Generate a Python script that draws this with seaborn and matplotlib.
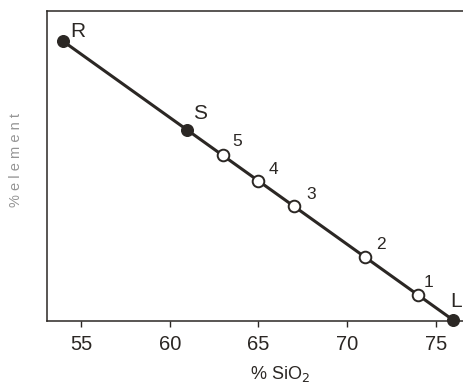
import matplotlib
matplotlib.use("Agg")
import matplotlib.pyplot as plt
import seaborn as sns
import pandas as pd

# data
labels = ["R", "S", "5", "4", "3", "2", "1", "L"]
sio2 = [54, 61, 63, 65, 67, 71, 74, 76]
element = [11.0, 7.5, 6.5, 5.5, 4.5, 2.5, 1.0, 0.0]
kind = ["end", "end", "mid", "mid", "mid", "mid", "mid", "end"]
xticks = [55, 60, 65, 70, 75]

df = pd.DataFrame({"label": labels, "sio2": sio2, "element": element, "kind": kind})

sns.set_theme(style="white")
plt.rcParams["font.family"] = ["Liberation Sans", "DejaVu Sans"]

W, H = 463, 383
fig = plt.figure(figsize=(W / 100, H / 100), dpi=100)
left, right, top, bottom = 47, 475, 11, 321
ax = fig.add_axes([left / W, (H - bottom) / H, (right - left) / W, (bottom - top) / H])

ink = "#2b2724"
sns.lineplot(data=df, x="sio2", y="element", ax=ax, color=ink, linewidth=2.2,
             sort=False, zorder=2)
ends = df[df["kind"] == "end"]
mids = df[df["kind"] == "mid"]
sns.scatterplot(data=ends, x="sio2", y="element", ax=ax, color=ink, s=70,
                edgecolor=ink, linewidth=1, zorder=3, clip_on=False)
sns.scatterplot(data=mids, x="sio2", y="element", ax=ax, color="white", s=70,
                edgecolor=ink, linewidth=1.4, zorder=3, clip_on=False)

offsets = {"R": (15, 10), "S": (13, 17), "5": (14, 14), "4": (15, 11), "3": (17, 12),
           "2": (16, 12), "1": (11, 12), "L": (3, 19)}
for lab, x, y in zip(labels, sio2, element):
    big = lab in ("R", "S", "L")
    ax.annotate(lab, (x, y), xytext=offsets[lab], textcoords="offset pixels",
                ha="center", va="center", fontsize=15 if big else 12.5, color=ink,
                annotation_clip=False)

ax.set_xlim(53.08, 77.22)
ax.set_ylim(-0.03, 12.2)
ax.set_xticks(xticks)
ax.set_xticklabels([str(t) for t in xticks])
ax.set_yticks([])
ax.set_xlabel("")
ax.set_ylabel("")
ax.tick_params(axis="x", direction="out", length=4, width=1, color=ink, pad=6,
               labelsize=14.5, labelcolor=ink, bottom=True)
for s in ["left", "bottom", "top", "right"]:
    ax.spines[s].set_color(ink)
    ax.spines[s].set_linewidth(1.1)

fig.text(280 / W, 4 / H, "% SiO$_2$", ha="center", va="baseline", fontsize=13, color=ink)
fig.text(16 / W, 1 - 160 / H, "% e l e m e n t", rotation=90, ha="center", va="center",
         fontsize=10.5, color="#959595")

fig.savefig("out.png", dpi=100)
